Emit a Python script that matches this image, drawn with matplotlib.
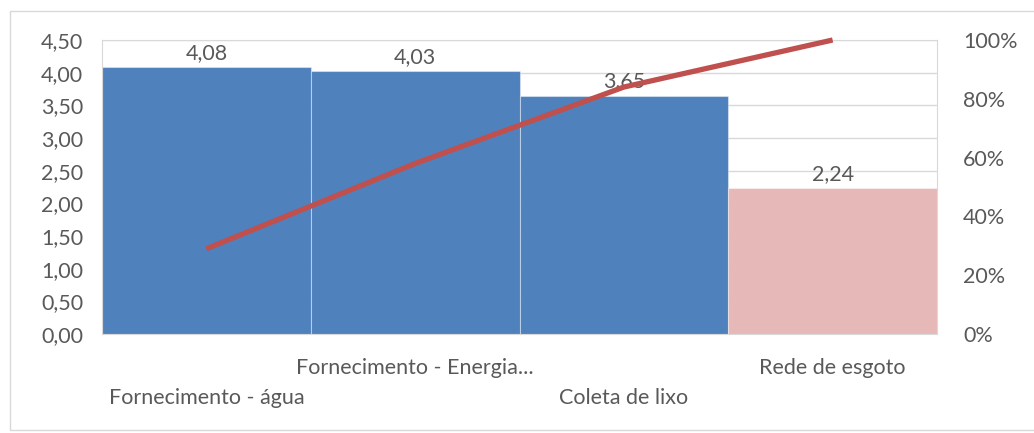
import matplotlib.pyplot as plt
from matplotlib.patches import Rectangle
from matplotlib.ticker import FuncFormatter, MultipleLocator

# dados
categorias = ['Fornecimento - água', 'Fornecimento - Energia...', 'Coleta de lixo', 'Rede de esgoto']
valores = [4.08, 4.03, 3.65, 2.24]
acumulado = [0.29, 0.58, 0.84, 1.00]
cores = ['#4F81BD', '#4F81BD', '#4F81BD', '#E6B9B8']

cinza_txt = '#595959'
cinza_grade = '#D9D9D9'
plt.rcParams['font.family'] = ['Lato', 'DejaVu Sans']
fs = 15.5

W, H = 1034, 433
fig = plt.figure(figsize=(W / 100, H / 100), dpi=100)
# moldura do gráfico
fig.patches.append(Rectangle((10 / W, 3 / H), 1.2, (430 - 11) / H, transform=fig.transFigure,
                             fill=False, edgecolor=cinza_grade, linewidth=1))

ax = fig.add_axes([102 / W, (H - 334) / H, (937 - 102) / W, (334 - 40) / H])
x = list(range(len(valores)))
ax.bar(x, valores, width=1.0, color=cores, edgecolor=(1, 1, 1, 0.4), linewidth=0.8, zorder=2)
ax.set_xlim(-0.5, 3.5)
ax.set_ylim(0, 4.5)
ax.yaxis.set_major_locator(MultipleLocator(0.5))
ax.yaxis.set_major_formatter(FuncFormatter(lambda v, p: f'{v:.2f}'.replace('.', ',')))
ax.grid(axis='y', color=cinza_grade, linewidth=1, zorder=0)
ax.set_axisbelow(True)
for s in ax.spines.values():
    s.set_color(cinza_grade)
ax.tick_params(axis='y', length=0, pad=13.5, labelsize=fs, labelcolor=cinza_txt)
ax.set_xticks([])

# rótulos dos dados
for i, v in enumerate(valores):
    ax.annotate(f'{v:.2f}'.replace('.', ','), (i, v), xytext=(0, 4), textcoords='offset pixels',
                ha='center', va='bottom', fontsize=fs, color=cinza_txt, zorder=1)

# rótulos do eixo x em dois níveis
for i, c in enumerate(categorias):
    dy = -34 if i % 2 == 1 else -64
    ax.annotate(c, (i, 0), xytext=(0, dy), textcoords='offset pixels',
                ha='center', va='center', fontsize=fs, color=cinza_txt, annotation_clip=False)

ax2 = ax.twinx()
ax2.plot(x, acumulado, color='#C0504D', linewidth=3.8, solid_capstyle='butt', zorder=3, clip_on=False)
ax2.set_ylim(0, 1)
ax2.yaxis.set_major_locator(MultipleLocator(0.2))
ax2.yaxis.set_major_formatter(FuncFormatter(lambda v, p: f'{v * 100:.0f}%'))
ax2.tick_params(axis='y', length=0, pad=18.7, labelsize=fs, labelcolor=cinza_txt)
for s in ax2.spines.values():
    s.set_visible(False)

plt.savefig('out.png', dpi=100)
